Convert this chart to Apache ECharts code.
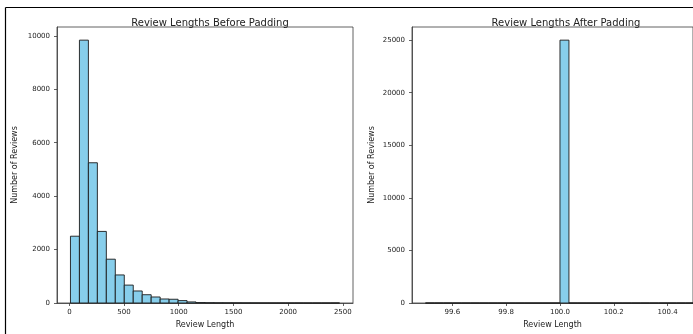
<!DOCTYPE html>
<html>
<head>
<meta charset="utf-8">
<script src="https://cdn.jsdelivr.net/npm/echarts@6/dist/echarts.min.js"></script>
<style>
  html, body { margin: 0; padding: 0; background: #fff; }
  #chart { width: 693px; height: 334px; }
</style>
</head>
<body>
<div id="chart"></div>
<script>
// Histogram of review lengths (words) before padding: 30 equal-width bins
const lengthBinStart = 10;
const lengthBinWidth = 82;
const lengthCounts = [2500, 9840, 5250, 2680, 1640, 1050, 670, 450, 310, 225,
                      150, 140, 90, 40, 15, 8, 5, 4, 3, 2,
                      2, 1, 1, 1, 0, 1, 0, 0, 0, 1];
const lengthTicks = [0, 500, 1000, 1500, 2000, 2500];
const lengthCountTicks = [0, 2000, 4000, 6000, 8000, 10000];

// After padding every review is exactly 100 tokens long
const paddedBinStart = 99.5;
const paddedBinWidth = 1 / 30;
const paddedCounts = [0, 0, 0, 0, 0, 0, 0, 0, 0, 0,
                      0, 0, 0, 0, 0, 25000, 0, 0, 0, 0,
                      0, 0, 0, 0, 0, 0, 0, 0, 0, 0];
const paddedTicks = [99.6, 99.8, 100.0, 100.2, 100.4];
const paddedCountTicks = [0, 5000, 10000, 15000, 20000, 25000];

const titles = ['Review Lengths Before Padding', 'Review Lengths After Padding'];
const xLabel = 'Review Length';
const yLabel = 'Number of Reviews';

const FONT = 'DejaVu Sans';
const INK = '#222';
const FRAME = '#3a3a3a';

function toBins(start, width, counts) {
  return counts.map((c, i) => [start + i * width, start + (i + 1) * width, c]);
}

function renderBar(params, api) {
  const p0 = api.coord([api.value(0), api.value(2)]);
  const p1 = api.coord([api.value(1), 0]);
  return {
    type: 'rect',
    shape: { x: p0[0], y: p0[1], width: p1[0] - p0[0], height: p1[1] - p0[1] },
    style: { fill: '#87CEEB', stroke: '#1a1a1a', lineWidth: 0.9 }
  };
}

function margins(lo, hi) {
  const pad = (hi - lo) * 0.05;
  return [lo - pad, hi + pad];
}

const lenRange = margins(lengthBinStart, lengthBinStart + lengthCounts.length * lengthBinWidth);
const padFull = margins(paddedBinStart, paddedBinStart + paddedCounts.length * paddedBinWidth);
const lenMax = Math.max(...lengthCounts) * 1.05;
const padMax = Math.max(...paddedCounts) * 1.05;

// the right-hand panel runs past the page edge: show only the part that fits
const padFullWidth = 297;
const padShownWidth = 282;
const padRange = [padFull[0], padFull[0] + (padFull[1] - padFull[0]) * padShownWidth / padFullWidth];

function xAxisOf(grid, range, ticks, fmt) {
  return {
    type: 'value', gridIndex: grid, min: range[0], max: range[1],
    name: xLabel, nameLocation: 'middle', nameGap: 17,
    nameTextStyle: { fontFamily: FONT, fontSize: 8, color: INK },
    axisLine: { show: true, onZero: false, lineStyle: { color: FRAME, width: 0.8 } },
    splitLine: { show: false },
    axisTick: { show: true, inside: false, length: 3, lineStyle: { color: FRAME, width: 0.8 }, customValues: ticks },
    axisLabel: { fontFamily: FONT, fontSize: 7, color: INK, margin: 6, customValues: ticks, formatter: fmt }
  };
}

function yAxisOf(grid, max, ticks, gap) {
  return {
    type: 'value', gridIndex: grid, min: 0, max: max,
    name: yLabel, nameLocation: 'middle', nameGap: gap,
    nameTextStyle: { fontFamily: FONT, fontSize: 8, color: INK },
    axisLine: { show: true, onZero: false, lineStyle: { color: FRAME, width: 0.8 } },
    splitLine: { show: false },
    axisTick: { show: true, inside: false, length: 3, lineStyle: { color: FRAME, width: 0.8 }, customValues: ticks },
    axisLabel: { fontFamily: FONT, fontSize: 7, color: INK, margin: 7, customValues: ticks, formatter: v => String(v) }
  };
}

const chart = echarts.init(document.getElementById('chart'), null, { renderer: 'canvas' });
chart.setOption({
  animation: false,
  backgroundColor: '#fff',
  title: [
    { text: titles[0], left: 205, top: 13, textAlign: 'center',
      textStyle: { fontFamily: FONT, fontSize: 10, fontWeight: 'normal', color: INK } },
    { text: titles[1], left: 561, top: 13, textAlign: 'center',
      textStyle: { fontFamily: FONT, fontSize: 10, fontWeight: 'normal', color: INK } }
  ],
  grid: [
    { left: 57, top: 27, width: 296, height: 276, show: true, borderColor: FRAME, borderWidth: 0.8, backgroundColor: 'transparent' },
    { left: 412, top: 27, width: padShownWidth, height: 276, show: true, borderColor: FRAME, borderWidth: 0.8, backgroundColor: 'transparent' }
  ],
  xAxis: [
    xAxisOf(0, lenRange, lengthTicks, v => String(v)),
    xAxisOf(1, padRange, paddedTicks, v => v.toFixed(1))
  ],
  yAxis: [
    yAxisOf(0, lenMax, lengthCountTicks, 38),
    yAxisOf(1, padMax, paddedCountTicks, 36)
  ],
  series: [
    { type: 'custom', xAxisIndex: 0, yAxisIndex: 0, renderItem: renderBar,
      encode: { x: [0, 1], y: 2 }, data: toBins(lengthBinStart, lengthBinWidth, lengthCounts) },
    { type: 'custom', xAxisIndex: 1, yAxisIndex: 1, renderItem: renderBar,
      encode: { x: [0, 1], y: 2 }, data: toBins(paddedBinStart, paddedBinWidth, paddedCounts) }
  ],
  graphic: [
    { type: 'line', shape: { x1: 5.5, y1: 7.5, x2: 693, y2: 7.5 }, style: { stroke: '#000', lineWidth: 1.2 } },
    { type: 'line', shape: { x1: 5.5, y1: 7.5, x2: 5.5, y2: 334 }, style: { stroke: '#000', lineWidth: 1.2 } }
  ]
});
</script>
</body>
</html>
